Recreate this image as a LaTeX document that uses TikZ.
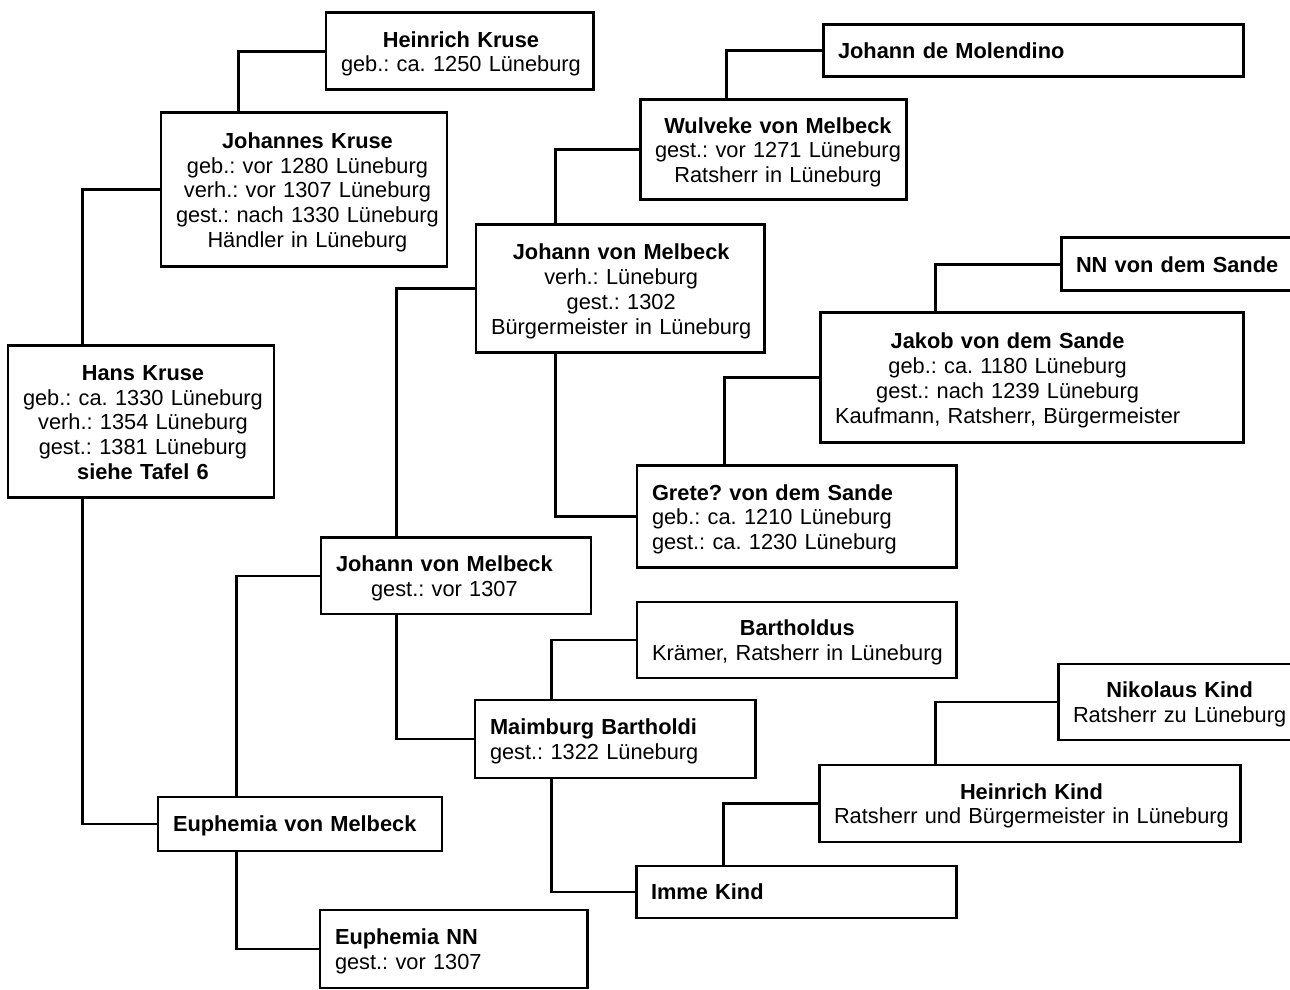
\documentclass[tikz,border=0pt]{standalone}
\usepackage{fontspec}
\setmainfont{Liberation Sans}
\usepackage{tikz}
\usetikzlibrary{positioning}
\frenchspacing

% lines of one box, centred among themselves
\newcommand{\stack}[1]{\raisebox{-0.06cm}[\height][\depth]{\begin{tabular}{@{}c@{}}#1\end{tabular}}}
% lines of one box, flush left
\newcommand{\lstack}[1]{\raisebox{-0.06cm}[\height][\depth]{\begin{tabular}{@{}l@{}}#1\end{tabular}}}

\tikzset{
  person/.style={draw, rectangle, line width=1.7pt, inner xsep=0.3cm, inner ysep=2pt,
    align=left, font=\fontsize{12.4}{14.2}\selectfont},
  link/.style={line width=1.7pt},
}

\begin{document}
\begin{tikzpicture}
\useasboundingbox (0,0) rectangle (25.8,19.8);
\clip (0,0) rectangle (25.8,19.8);

% generation 1
\node[person, minimum width=5.32cm, minimum height=3.04cm, text width=4.72cm] (hans) at (2.82,11.36)
  {\stack{\textbf{Hans Kruse}\\geb.: ca. 1330 Lüneburg\\verh.: 1354 Lüneburg\\gest.: 1381 Lüneburg\\\textbf{siehe Tafel 6}}};

% generation 2
\node[person, minimum width=5.72cm, minimum height=3.08cm, text width=5.12cm] (johanneskruse) at (6.08,16.00)
  {\stack{\textbf{Johannes Kruse}\\geb.: vor 1280 Lüneburg\\verh.: vor 1307 Lüneburg\\gest.: nach 1330 Lüneburg\\Händler in Lüneburg}};
\node[person, minimum width=5.68cm, minimum height=1.08cm, text width=5.08cm] (euphemiavm) at (6.00,3.32)
  {\lstack{\textbf{Euphemia von Melbeck}}};

% generation 3
\node[person, align=center, minimum width=5.34cm, minimum height=1.54cm, text width=4.74cm] (heinrichkruse) at (9.19,18.77)
  {\stack{\textbf{Heinrich Kruse}\\geb.: ca. 1250 Lüneburg}};
\node[person, minimum width=5.40cm, minimum height=1.52cm, text width=4.80cm] (johannlow) at (9.12,8.28)
  {\stack{\textbf{Johann von Melbeck}\\gest.: vor 1307}};
\node[person, minimum width=5.34cm, minimum height=1.56cm, text width=4.74cm] (euphemiann) at (9.07,0.82)
  {\lstack{\textbf{Euphemia NN}\\gest.: vor 1307}};

% generation 4
\node[person, minimum width=5.76cm, minimum height=2.56cm, text width=5.16cm] (johannup) at (12.40,14.02)
  {\stack{\textbf{Johann von Melbeck}\\verh.: Lüneburg\\gest.: 1302\\Bürgermeister in Lüneburg}};
\node[person, minimum width=5.60cm, minimum height=1.56cm, text width=5.00cm] (maimburg) at (12.30,5.02)
  {\lstack{\textbf{Maimburg Bartholdi}\\gest.: 1322 Lüneburg}};

% generation 5
\node[person, minimum width=5.32cm, minimum height=2.00cm, text width=4.72cm] (wulveke) at (15.46,16.80)
  {\stack{\textbf{Wulveke von Melbeck}\\gest.: vor 1271 Lüneburg\\Ratsherr in Lüneburg}};
\node[person, minimum width=6.38cm, minimum height=2.04cm, text width=5.78cm] (grete) at (15.93,9.46)
  {\lstack{\textbf{Grete? von dem Sande}\\geb.: ca. 1210 Lüneburg\\gest.: ca. 1230 Lüneburg}};
\node[person, minimum width=6.38cm, minimum height=1.52cm, text width=5.78cm] (bartholdus) at (15.93,7.00)
  {\stack{\textbf{Bartholdus}\\Krämer, Ratsherr in Lüneburg}};
\node[person, minimum width=6.40cm, minimum height=1.04cm, text width=5.80cm] (immekind) at (15.92,1.96)
  {\lstack{\textbf{Imme Kind}}};

% generation 6
\node[person, minimum width=8.40cm, minimum height=1.04cm, text width=7.80cm] (molendino) at (20.66,18.78)
  {\lstack{\textbf{Johann de Molendino}}};
\node[person, minimum width=8.46cm, minimum height=2.60cm, text width=7.86cm] (jakob) at (20.63,12.24)
  {\stack{\textbf{Jakob von dem Sande}\\geb.: ca. 1180 Lüneburg\\gest.: nach 1239 Lüneburg\\Kaufmann, Ratsherr, Bürgermeister}};
\node[person, minimum width=8.42cm, minimum height=1.54cm, text width=7.82cm] (heinrichkind) at (20.59,3.73)
  {\stack{\textbf{Heinrich Kind}\\Ratsherr und Bürgermeister in Lüneburg}};

% generation 7
\node[person, minimum width=5.00cm, minimum height=1.06cm, text width=4.40cm] (nnsande) at (23.72,14.51)
  {\lstack{\textbf{NN von dem Sande}}};
\node[person, minimum width=4.80cm, minimum height=1.52cm, text width=4.20cm] (nikolaus) at (23.56,5.76)
  {\stack{\textbf{Nikolaus Kind}\\Ratsherr zu Lüneburg}};

% father above, mother below
\draw[link] ([xshift=1.52cm]hans.north west) |- (johanneskruse.west);
\draw[link] ([xshift=1.52cm]hans.south west) |- (euphemiavm.west);
\draw[link] ([xshift=1.58cm]johanneskruse.north west) |- (heinrichkruse.west);
\draw[link] ([xshift=1.60cm]euphemiavm.north west) |- (johannlow.west);
\draw[link] ([xshift=1.60cm]euphemiavm.south west) |- (euphemiann.west);
\draw[link] ([xshift=1.54cm]johannlow.north west) |- (johannup.west);
\draw[link] ([xshift=1.54cm]johannlow.south west) |- (maimburg.west);
\draw[link] ([xshift=1.62cm]johannup.north west) |- (wulveke.west);
\draw[link] ([xshift=1.62cm]johannup.south west) |- (grete.west);
\draw[link] ([xshift=1.76cm]wulveke.north west) |- (molendino.west);
\draw[link] ([xshift=1.78cm]grete.north west) |- (jakob.west);
\draw[link] ([xshift=2.34cm]jakob.north west) |- (nnsande.west);
\draw[link] ([xshift=1.56cm]maimburg.north west) |- (bartholdus.west);
\draw[link] ([xshift=1.56cm]maimburg.south west) |- (immekind.west);
\draw[link] ([xshift=1.78cm]immekind.north west) |- (heinrichkind.west);
\draw[link] ([xshift=2.36cm]heinrichkind.north west) |- (nikolaus.west);
\end{tikzpicture}
\end{document}
